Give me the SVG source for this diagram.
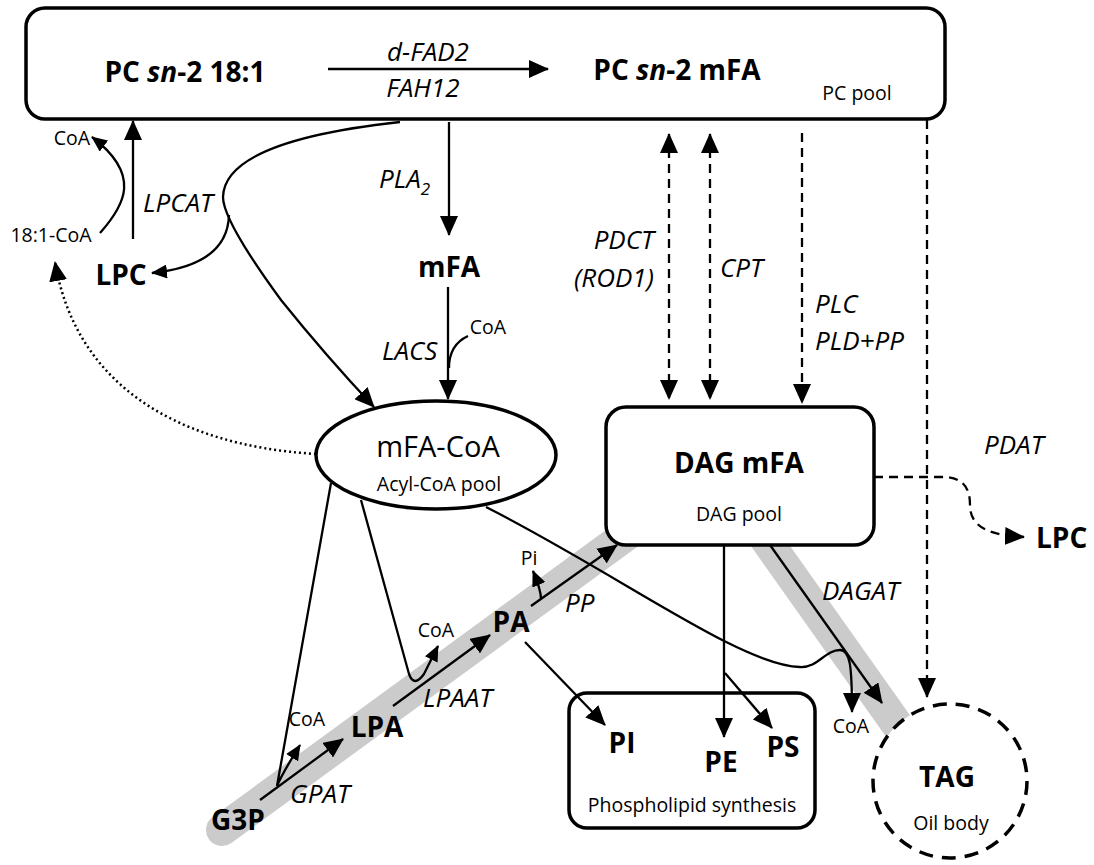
<svg xmlns="http://www.w3.org/2000/svg" width="1094" height="865" viewBox="0 0 1094 865">
<defs>
<style>
text{font-family:"Open Sans","Noto Sans",sans-serif;fill:#000}
.b{font-weight:700;font-size:28px}
.i{font-style:italic;font-size:26px}
.s{font-size:19.5px}
.m{text-anchor:middle}
.e{text-anchor:end}
.box{fill:#fff;stroke:#000;stroke-width:3.5}
.ln{fill:none;stroke:#000;stroke-width:2.3}
.dash{stroke-dasharray:9 6}
.dot{stroke-dasharray:2 3;stroke-width:2.5}
.band{fill:none;stroke:#cbcbcb;stroke-width:32}
</style>
<marker id="ah" markerUnits="userSpaceOnUse" markerWidth="20" markerHeight="18" refX="19" refY="9" orient="auto-start-reverse"><path d="M0,0 L20,9 L0,18 z" fill="#000"/></marker>
<marker id="as" markerUnits="userSpaceOnUse" markerWidth="16" markerHeight="14" refX="15" refY="7" orient="auto"><path d="M0,0 L16,7 L0,14 z" fill="#000"/></marker>
</defs>

<g id="bands">
<path class="band" d="M222,830 L640,525" stroke-linecap="round"/>
<path class="band" d="M745,510 L915,750"/>
</g>

<g id="pc-pool">
<rect class="box" x="26" y="8" width="919" height="111" rx="19"/>
<text class="b m" x="185" y="82">PC <tspan font-style="italic">sn</tspan>-2 18:1</text>
<text class="b m" x="677" y="80">PC <tspan font-style="italic">sn</tspan>-2 mFA</text>
<text class="s m" x="857" y="100">PC pool</text>
</g>

<g id="mfa-coa">
<ellipse class="box" cx="436" cy="455" rx="120" ry="54"/>
<text class="m" x="438" y="457" font-size="29">mFA-CoA</text>
<text class="s m" x="439" y="491">Acyl-CoA pool</text>
</g>

<g id="dag">
<rect class="box" x="606" y="407" width="268" height="138" rx="20"/>
<text class="b m" x="739" y="473" font-size="29">DAG mFA</text>
<text class="s m" x="739" y="521">DAG pool</text>
</g>

<g id="phospholipid">
<rect class="box" x="569" y="693" width="246" height="135" rx="18"/>
<text class="b m" x="622" y="753">PI</text>
<text class="b m" x="721" y="772">PE</text>
<text class="b m" x="783" y="757">PS</text>
<text class="s m" x="692" y="812">Phospholipid synthesis</text>
</g>

<g id="tag">
<circle cx="950" cy="781" r="77" fill="#fff" stroke="#000" stroke-width="3.5" stroke-dasharray="14 9"/>
<text class="b m" x="947" y="787">TAG</text>
<text class="s m" x="951" y="830">Oil body</text>
</g>

<g id="lpc"><text class="b m" x="121" y="285">LPC</text></g>
<g id="oleoyl-coa"><text class="s m" x="51" y="242">18:1-CoA</text></g>
<g id="coa-lpcat"><text class="s m" x="72" y="145">CoA</text></g>
<g id="mfa"><text class="b m" x="449" y="277" font-size="27">mFA</text></g>
<g id="coa-lacs"><text class="s m" x="488" y="334">CoA</text></g>
<g id="g3p"><text class="b m" x="238" y="830">G3P</text></g>
<g id="lpa"><text class="b m" x="377" y="737" font-size="27">LPA</text></g>
<g id="pa"><text class="b m" x="511" y="632" font-size="27">PA</text></g>
<g id="coa-gpat"><text class="s m" x="307" y="726">CoA</text></g>
<g id="coa-lpaat"><text class="s m" x="436" y="637">CoA</text></g>
<g id="pi"><text class="s m" x="529" y="565">Pi</text></g>
<g id="coa-dagat"><text class="s m" x="851" y="733">CoA</text></g>
<g id="lpc-pdat"><text class="b" x="1036" y="548">LPC</text></g>

<g id="enzymes">
<text class="i m" x="428" y="61">d-FAD2</text>
<text class="i m" x="423" y="97">FAH12</text>
<text class="i" x="143" y="212">LPCAT</text>
<text class="i" x="379" y="188">PLA<tspan font-size="17" dy="7">2</tspan></text>
<text class="i" x="382" y="360">LACS</text>
<text class="i e" x="654" y="249">PDCT</text>
<text class="i e" x="654" y="287">(ROD1)</text>
<text class="i" x="720" y="277">CPT</text>
<text class="i" x="815" y="313">PLC</text>
<text class="i" x="815" y="350">PLD+PP</text>
<text class="i" x="984" y="454">PDAT</text>
<text class="i" x="822" y="600">DAGAT</text>
<text class="i" x="565" y="612">PP</text>
<text class="i" x="423" y="707">LPAAT</text>
<text class="i" x="290" y="803">GPAT</text>
</g>

<g id="connectors">
<path class="ln" d="M328,69 H548" marker-end="url(#ah)"/>
<path class="ln" d="M133,239 V121" marker-end="url(#ah)"/>
<path class="ln" d="M100,233 C125,205 142,175 92,137" marker-end="url(#as)"/>
<path class="ln" d="M400,122 C290,134 224,158 223,197 C223,212 240,244 281,300 Q326,356 374,407" marker-end="url(#ah)"/>
<path class="ln" d="M229,215 C228,250 200,268 152,273" marker-end="url(#as)"/>
<path class="ln" d="M449,122 V235" marker-end="url(#ah)"/>
<path class="ln" d="M448,287 V399" marker-end="url(#ah)"/>
<path class="ln" d="M468,336 C455,342 449,352 449,368"/>
<path class="ln dot" d="M316,454 C170,445 75,380 55,262" marker-end="url(#ah)"/>
<path class="ln dash" d="M669,134 V399" marker-start="url(#ah)" marker-end="url(#ah)"/>
<path class="ln dash" d="M710,134 V399" marker-start="url(#ah)" marker-end="url(#ah)"/>
<path class="ln dash" d="M802,133 V403" marker-end="url(#ah)"/>
<path class="ln dash" d="M927,120 V697" marker-end="url(#ah)"/>
<path class="ln dash" d="M874,477 H942 C965,477 970,490 970,505 C970,525 985,535 1024,537" marker-end="url(#ah)"/>
<path class="ln" d="M724,545 V737" marker-end="url(#ah)"/>
<path class="ln" d="M725,673 L772,728" marker-end="url(#ah)"/>
<path class="ln" d="M525,642 L605,725" marker-end="url(#ah)"/>
<path class="ln" d="M770,545 L882,703" marker-end="url(#ah)"/>
<path class="ln" d="M260,800 L343,739" marker-end="url(#ah)"/>
<path class="ln" d="M393,706 L490,635" marker-end="url(#ah)"/>
<path class="ln" d="M531,606 L617,545" marker-end="url(#ah)"/>
<path class="ln" d="M541,599 Q541,590 533,571" marker-end="url(#as)"/>
<path class="ln" d="M331,483 L277,786 Q282,774 300,745" marker-end="url(#as)"/>
<path class="ln" d="M361,500 L409,674 Q414,688 424,674 L438,646" marker-end="url(#as)"/>
<path class="ln" d="M486,507 C620,575 740,665 800,667 C818,668 825,650 840,650 C850,650 852,665 852,712" marker-end="url(#ah)"/>
</g>
</svg>
